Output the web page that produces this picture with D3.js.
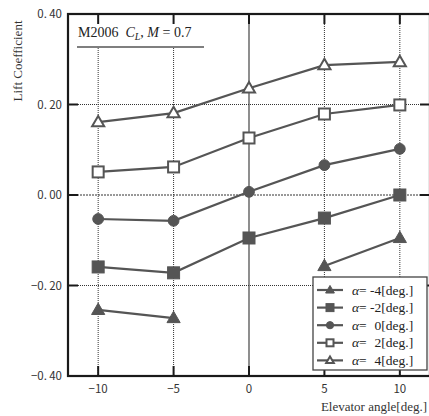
<!DOCTYPE html>
<html>
<head>
<meta charset="utf-8">
<script src="https://cdn.jsdelivr.net/npm/d3@7"></script>
<style>
  body { margin: 0; background: #fff; }
  svg { display: block; }
</style>
</head>
<body>
<svg id="chart" width="429" height="416"></svg>
<script>
// DATA
var elevator = [-10, -5, 0, 5, 10];
var alphaNeg4 = [-0.254, -0.272, null, -0.157, -0.095];
var alphaNeg2 = [-0.159, -0.172, -0.095, -0.051, 0.0];
var alpha0 = [-0.053, -0.057, 0.007, 0.066, 0.102];
var alpha2 = [0.051, 0.062, 0.126, 0.179, 0.199];
var alpha4 = [0.161, 0.181, 0.236, 0.287, 0.294];
var xTicks = [-10, -5, 0, 5, 10];
var yTicks = [-0.4, -0.2, 0, 0.2, 0.4];
var legendLabels = ['-4', '-2', '\u00a0\u200a0', '\u00a0\u200a2', '\u00a0\u200a4'];

var series = [
    {vals: alphaNeg4, shape: 'triangle', filled: true},
    {vals: alphaNeg2, shape: 'square', filled: true},
    {vals: alpha0, shape: 'circle', filled: true},
    {vals: alpha2, shape: 'square', filled: false},
    {vals: alpha4, shape: 'triangle', filled: false}
];

var svg = d3.select('#chart');
var L = 68, R = 430, T = 14, B = 376;
var gray = '#555';

var x = d3.scaleLinear().domain([-12, 12]).range([L, R]);
var y = d3.scaleLinear().domain([-0.4, 0.4]).range([B, T]);

// GRID LINES
xTicks.forEach(function(t) {
    svg.append('line')
        .attr('x1', x(t)).attr('x2', x(t))
        .attr('y1', T).attr('y2', B)
        .style('stroke', t == 0 ? '#444' : '#333')
        .style('stroke-width', t == 0 ? 1.2 : 1)
        .style('stroke-dasharray', t == 0 ? null : '1,1');
});
yTicks.forEach(function(t) {
    if (Math.abs(t) > 0.39) return;
    svg.append('line')
        .attr('x1', L).attr('x2', R)
        .attr('y1', y(t)).attr('y2', y(t))
        .style('stroke', '#333')
        .style('stroke-width', 1)
        .style('stroke-dasharray', t == 0 ? '2,1' : '1,1');
});

// TITLE BOX (covers the grid)
svg.append('rect')
    .attr('x', L + 4).attr('y', T + 2)
    .attr('width', 134).attr('height', 31)
    .style('fill', '#fff');
var title = svg.append('text')
    .attr('x', 78).attr('y', 37)
    .style('font-family', '"Liberation Serif", serif')
    .style('font-size', '14px')
    .style('fill', '#222');
title.append('tspan').text('M2006\u00a0\u00a0');
title.append('tspan').style('font-style', 'italic').text('C');
title.append('tspan').style('font-style', 'italic').style('font-size', '10px').attr('dy', 3).text('L');
title.append('tspan').attr('dy', -3).text(', ');
title.append('tspan').style('font-style', 'italic').text('M');
title.append('tspan').text(' = 0.7');
svg.append('line')
    .attr('x1', 77).attr('x2', 204)
    .attr('y1', 47).attr('y2', 47)
    .style('stroke', gray).style('stroke-width', 1.5);

// FRAME AND TICKS
svg.append('rect')
    .attr('x', L).attr('y', T)
    .attr('width', R - L).attr('height', B - T)
    .style('fill', 'none')
    .style('stroke', '#1a1a1a')
    .style('stroke-width', 2.2);
xTicks.forEach(function(t) {
    svg.append('line').attr('x1', x(t)).attr('x2', x(t)).attr('y1', T).attr('y2', T + 10)
        .style('stroke', '#1a1a1a').style('stroke-width', 2);
    svg.append('line').attr('x1', x(t)).attr('x2', x(t)).attr('y1', B - 10).attr('y2', B)
        .style('stroke', '#1a1a1a').style('stroke-width', 2);
});
yTicks.forEach(function(t) {
    svg.append('line').attr('x1', L).attr('x2', L + 10).attr('y1', y(t)).attr('y2', y(t))
        .style('stroke', '#1a1a1a').style('stroke-width', 2);
    svg.append('line').attr('x1', R - 10).attr('x2', R).attr('y1', y(t)).attr('y2', y(t))
        .style('stroke', '#1a1a1a').style('stroke-width', 2);
});

// TICK LABELS
function fmtY(v) {
    var s = Math.abs(v).toFixed(2).replace('.', '.\u2009');
    return (v < -0.001 ? '\u2212' : '') + s;
}
yTicks.forEach(function(t) {
    svg.append('text')
        .attr('x', 62).attr('y', y(t) + 4)
        .attr('text-anchor', 'end')
        .style('font-family', '"Noto Sans CJK JP", "DejaVu Sans", sans-serif')
        .style('font-size', '11.5px')
        .style('fill', '#333')
        .text(fmtY(t));
});
xTicks.forEach(function(t) {
    svg.append('text')
        .attr('x', x(t)).attr('y', 393)
        .attr('text-anchor', 'middle')
        .style('font-family', '"Noto Sans CJK JP", "DejaVu Sans", sans-serif')
        .style('font-size', '11.5px')
        .style('fill', '#333')
        .text(t < 0 ? '\u2212' + Math.abs(t) : t);
});

// AXIS LABELS
svg.append('text')
    .attr('transform', 'translate(22,61) rotate(-90)')
    .attr('text-anchor', 'middle')
    .style('font-family', '"Liberation Serif", serif')
    .style('font-size', '13px')
    .style('fill', '#333')
    .text('Lift Coefficient');
svg.append('text')
    .attr('x', 427).attr('y', 411)
    .attr('text-anchor', 'end')
    .style('font-family', '"Liberation Serif", serif')
    .style('font-size', '13px')
    .style('fill', '#333')
    .text('Elevator angle[deg.]');

// MARKERS
function drawMarker(g, shape, filled, cx, cy, s) {
    var m;
    if (shape == 'circle') {
        m = g.append('circle').attr('cx', cx).attr('cy', cy).attr('r', s * 0.45);
    } else if (shape == 'square') {
        m = g.append('rect').attr('x', cx - s / 2).attr('y', cy - s / 2).attr('width', s).attr('height', s);
    } else {
        var h = s * 0.95;
        m = g.append('path').attr('d', 'M' + cx + ',' + (cy - h * 0.6) +
            'L' + (cx + s * 0.55) + ',' + (cy + h * 0.4) +
            'L' + (cx - s * 0.55) + ',' + (cy + h * 0.4) + 'Z');
    }
    m.style('fill', filled ? gray : '#fff')
     .style('stroke', gray)
     .style('stroke-width', filled ? 1 : 2);
}

// LINES
var lineGen = d3.line()
    .defined(function(d) { return d.v != null; })
    .x(function(d) { return x(d.e); })
    .y(function(d) { return y(d.v); });

series.forEach(function(s) {
    var pts = elevator.map(function(e, i) { return {e: e, v: s.vals[i]}; });
    svg.append('path')
        .attr('d', lineGen(pts))
        .style('fill', 'none')
        .style('stroke', gray)
        .style('stroke-width', 2.2);
    var g = svg.append('g');
    pts.forEach(function(p) {
        if (p.v == null) return;
        drawMarker(g, s.shape, s.filled, x(p.e), y(p.v), s.filled ? 12 : 11);
    });
});

// LEGEND
var lg = svg.append('g');
lg.append('rect')
    .attr('x', 313).attr('y', 277)
    .attr('width', 114).attr('height', 93)
    .style('fill', '#fff')
    .style('stroke', '#444')
    .style('stroke-width', 1.3);
series.forEach(function(s, i) {
    var ly = 290 + i * 17.6;
    lg.append('line')
        .attr('x1', 317).attr('x2', 343)
        .attr('y1', ly).attr('y2', ly)
        .style('stroke', gray).style('stroke-width', 2.2);
    drawMarker(lg, s.shape, s.filled, 330, ly, s.filled ? 8 : 7);
    var t = lg.append('text')
        .attr('x', 352).attr('y', ly + 4.5)
        .style('font-family', '"Liberation Serif", serif')
        .style('font-size', '13.5px')
        .style('fill', '#222');
    t.append('tspan').style('font-style', 'italic').text('\u03b1');
    t.append('tspan').text('= ' + legendLabels[i] + '[deg.]');
});
</script>
</body>
</html>
